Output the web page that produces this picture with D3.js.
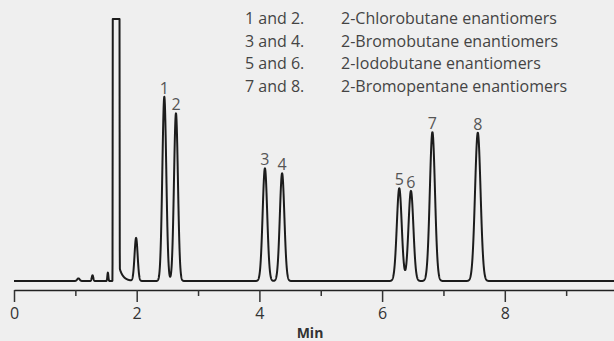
<!DOCTYPE html>
<html>
<head>
<meta charset="utf-8">
<script src="https://cdn.jsdelivr.net/npm/d3@7"></script>
<style>
  body { margin: 0; background: #efefef; }
  svg { display: block; font-family: "Open Sans", sans-serif; }
</style>
</head>
<body>
<svg id="chart"></svg>
<script>
// Chart dimensions
const width = 614;
const height = 341;

// peaks (min, signal units, sigma in min)
const peakLabels = ["1", "2", "3", "4", "5", "6", "7", "8"];
const peakTimes = [2.45, 2.64, 4.09, 4.37, 6.28, 6.47, 6.82, 7.56];
const peakHeights = [70.3, 64.0, 43.0, 41.1, 35.4, 34.4, 56.8, 56.6];
const peakWidths = [0.032, 0.032, 0.037, 0.037, 0.04, 0.04, 0.042, 0.045];

// small unlabelled peaks
const minorTimes = [1.05, 1.28, 1.53, 1.99];
const minorHeights = [1.0, 2.2, 3.2, 16.4];
const minorWidths = [0.02, 0.012, 0.008, 0.025];

// solvent peak (off scale)
const solventStart = 1.61;
const solventEnd = 1.72;
const solventHeight = 400;
const solventTail = 5;

// legend
const legendPairs = ["1 and 2.", "3 and 4.", "5 and 6.", "7 and 8."];
const legendNames = [
  "2-Chlorobutane enantiomers",
  "2-Bromobutane enantiomers",
  "2-Iodobutane enantiomers",
  "2-Bromopentane enantiomers"
];

const tickValues = [0, 1, 2, 3, 4, 5, 6, 7, 8, 9];
const xMax = 9.78;

const svg = d3.select("#chart").attr("width", width).attr("height", height);

svg.append("rect").attr("width", width).attr("height", height).attr("fill", "#efefef");

// SCALES
const x = d3.scaleLinear().domain([0, xMax]).range([14, 614]);
const y = d3.scaleLinear().domain([0, 100]).range([281, 19]).clamp(true);

// signal built from the peak list
const gauss = (t, c, h, s) => h * Math.exp(-0.5 * ((t - c) / s) ** 2);
function signal(t) {
  let v = 0;
  peakTimes.forEach((c, i) => { v += gauss(t, c, peakHeights[i], peakWidths[i]); });
  minorTimes.forEach((c, i) => { v += gauss(t, c, minorHeights[i], minorWidths[i]); });
  const mid = (solventStart + solventEnd) / 2;
  const half = (solventEnd - solventStart) / 2;
  v += solventHeight * Math.exp(-Math.pow(Math.abs(t - mid) / half, 20));
  if (t > solventEnd - 0.01) v += solventTail * Math.exp(-(t - solventEnd) / 0.06);
  return v;
}

const trace = d3.range(0, xMax + 0.001, 0.002).map((t) => [t, signal(t)]);

svg.append("path")
  .datum(trace)
  .attr("fill", "none")
  .attr("stroke", "#1c1c1c")
  .attr("stroke-width", 2)
  .attr("stroke-linejoin", "round")
  .attr("d", d3.line().x((d) => x(d[0])).y((d) => y(d[1])));

// AXIS
const xAxis = d3.axisBottom(x)
  .tickValues(tickValues)
  .tickSizeOuter(0)
  .tickSizeInner(6)
  .tickFormat((d) => (d % 2 === 0 ? d : ""));

const gx = svg.append("g")
  .attr("transform", "translate(0,290)")
  .call(xAxis);

gx.select(".domain").attr("stroke", "#222").attr("stroke-width", 1.5);
gx.selectAll(".tick line")
  .attr("stroke", "#333")
  .attr("stroke-width", 1.5)
  .attr("y2", (d) => (d % 2 === 0 ? 12 : 6));
gx.selectAll(".tick text")
  .attr("y", 18)
  .attr("fill", "#333")
  .style("font-size", "16px")
  .style("font-family", "'Open Sans', sans-serif");

svg.append("text")
  .attr("x", 310)
  .attr("y", 338)
  .attr("text-anchor", "middle")
  .attr("font-weight", "bold")
  .attr("font-size", 14)
  .attr("fill", "#333")
  .text("Min");

// PEAK LABELS
svg.selectAll(".peak-label")
  .data(peakLabels)
  .enter()
  .append("text")
  .attr("class", "peak-label")
  .attr("x", (d, i) => x(peakTimes[i]))
  .attr("y", (d, i) => y(peakHeights[i]) - 3)
  .attr("text-anchor", "middle")
  .attr("font-size", 16)
  .attr("fill", "#555")
  .text((d) => d);

// LEGEND
const legend = svg.append("g").attr("fill", "#444").attr("font-size", 16);
legend.selectAll(".pair")
  .data(legendPairs)
  .enter()
  .append("text")
  .attr("x", 245)
  .attr("y", (d, i) => 24 + i * 22.6)
  .text((d) => d);
legend.selectAll(".name")
  .data(legendNames)
  .enter()
  .append("text")
  .attr("x", 341)
  .attr("y", (d, i) => 24 + i * 22.6)
  .text((d) => d);
</script>
</body>
</html>
